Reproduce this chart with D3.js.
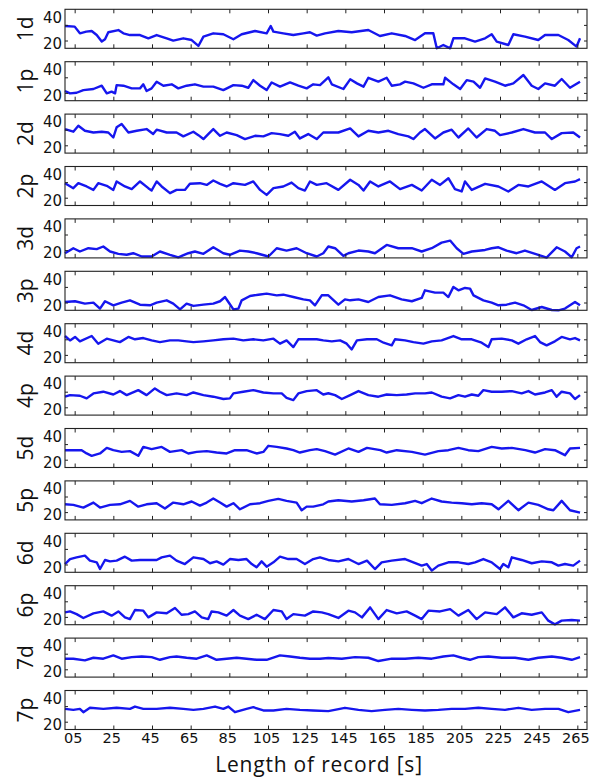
<!DOCTYPE html>
<html>
<head>
<meta charset="utf-8">
<script src="https://cdn.jsdelivr.net/npm/d3@7"></script>
<style>
  body { margin: 0; background: #fff; }
  svg { display: block; }
</style>
</head>
<body>
<div id="chart"></div>
<script>
// Panel names (top to bottom)
const panelNames = ["1d", "1p", "2d", "2p", "3d", "3p", "4d", "4p", "5d", "5p", "6d", "6p", "7d", "7p"];

// Axis ticks
const xTickValues = [5, 25, 45, 65, 85, 105, 125, 145, 165, 185, 205, 225, 245, 265];
const xTickLabels = ["05", "25", "45", "65", "85", "105", "125", "145", "165", "185", "205", "225", "245", "265"];
const yTickMarks = [20, 30];
const yTickLabels = [40, 20];

// Series: [time (s), value]
const s1d = [[0,29.3],[5,28.9],[7.7,24.6],[11,25.7],[13.8,26.1],[16.4,23.5],[19,19.3],[20.7,20.8],[22.4,25.3],[27.6,26.7],[30.2,24.6],[33.6,23.5],[38.8,23.5],[43.1,21.4],[47.4,23.5],[52.6,21.4],[56,19.9],[61.2,21.4],[65.5,20.3],[69,16.5],[71.6,22.5],[76.7,24.6],[81.9,24],[87.1,20.8],[91.4,24],[98.3,26.1],[104.3,24.6],[106.4,29.3],[107.8,25.7],[112.9,24.6],[118.1,23.5],[123.3,24.6],[126.7,25.3],[130.2,23.1],[134.5,24.6],[141.4,26.1],[148.3,25.3],[156.9,26.7],[162.9,22.9],[169,24.6],[175.9,22.9],[181.1,20.3],[186.2,24.6],[190.5,24.6],[192.3,15],[195.7,17.1],[199.2,15],[200.9,21.4],[206.9,21.4],[212.1,19.3],[217.3,21.4],[220.7,24],[223.3,19.3],[229.3,17.1],[231.9,24],[237.9,22.5],[244.8,20.3],[248.3,23.5],[255.2,23.5],[260.3,20.3],[264.6,16.1],[266.4,21.4]];
const s1p = [[0,21.2],[2.6,19.7],[6,20.1],[9.5,21.8],[14.7,22.5],[19,24.6],[21.6,19.7],[24.1,20.8],[25.9,19.7],[26.7,25],[30.2,24.6],[34.5,22.9],[38.8,22.9],[40.5,25.5],[42.2,21.2],[44.8,22.9],[47.4,27.2],[50.9,24.6],[55.2,25.5],[58.6,22.9],[62.9,24.6],[67.2,25.5],[71.6,24],[76.7,24],[81.9,21.8],[87.1,25],[91.4,24.6],[94.8,23.3],[97.4,28.2],[100.9,24.6],[104.3,21.8],[106.9,26.7],[111.2,24],[116.4,26.7],[120.7,24.6],[125,22.9],[128.4,25.5],[131.9,25],[136.2,30],[138,25.5],[144,22.5],[147.5,28.7],[151,26.1],[154.4,24],[156.9,29.7],[162.1,27.2],[166.4,29.7],[169,24.6],[173.3,25.5],[175.9,27.2],[180.2,26.1],[185.4,23.3],[189.7,25.5],[195.7,25.5],[196.6,29.7],[200.9,25.5],[204.4,22.5],[207.8,28.2],[211.3,27.2],[214.7,23.3],[217.3,29.3],[222.4,27.2],[227.6,24.6],[231.9,26.1],[237.1,31.5],[241.4,24.6],[244.8,22.5],[248.3,26.1],[253.4,24.6],[256.9,28.9],[261.2,23.3],[266.4,27.2]];
const s2d = [[0,30.4],[4.3,28.7],[6.9,32.5],[10.3,29.3],[14.7,28.2],[19,28.7],[22.4,28.2],[25,25],[26.7,31.5],[29.3,33.6],[32.8,28.2],[37.1,29.3],[42.2,30.4],[45.6,27.2],[47.4,30],[52.6,28.2],[57.7,28.2],[61.2,25.7],[66.4,28.7],[69,26.5],[71.6,24],[74.1,27.2],[76.7,30.4],[80.2,26.1],[83.6,28.2],[88.8,26.5],[93.1,24],[98.3,26.1],[102.6,25.7],[106.9,27.8],[111.2,27.2],[115.5,26.1],[118.9,28.7],[121.5,24.4],[125.8,27.2],[130.2,24],[133.6,28.2],[136.2,28.2],[141.4,28.2],[147.5,30.8],[151.8,25.7],[156.9,29.3],[162.1,28.2],[167.3,29.3],[172.4,27.2],[177.6,25.7],[180.2,24],[183.6,28.2],[186.2,30.4],[191.4,24.4],[195.7,28.2],[200,30],[203.5,25],[208.6,30.8],[212.9,25],[218.1,30.4],[222.4,29.3],[225,26.5],[231.1,28.2],[237.1,30.4],[243.1,28.2],[248.3,28.2],[251.8,24],[256.9,27.8],[262.9,28.2],[266.4,25]];
const s2p = [[0,29.3],[4.3,26.1],[6.9,29.3],[11.2,27.2],[14.7,25],[17.2,29.3],[21.6,27.6],[25,25],[26.7,30.4],[31,27.2],[34.5,25.5],[38.8,30.4],[43.1,26.1],[44.8,24.6],[47.4,30.4],[50,27.2],[54.3,22.9],[57.7,25],[62,25],[64.6,28.9],[69.8,29.3],[73.3,28.2],[76.7,31],[80.2,28.9],[83.6,27.2],[87.1,29.3],[93.1,28.2],[97.4,30.4],[100.9,25],[104.3,21.8],[107.8,26.1],[112.9,27.2],[117.2,29.7],[120.7,26.1],[124.1,24.6],[126.7,30.4],[130.2,28.2],[135.3,29.3],[141.4,25],[147.5,31.5],[151.8,28.2],[154.4,24.6],[157.8,30.4],[162.1,27.2],[168.1,30.4],[173.3,25.5],[179.4,28.2],[184.5,24.6],[189.7,31.5],[194,28.2],[198.3,32.5],[201.7,25.5],[205.2,24],[206.9,30.4],[210.4,25],[217.3,28.9],[224.2,27.2],[229.3,24],[234.5,28.2],[239.7,27.2],[246.6,30.4],[253.4,25],[258.6,29.3],[263.8,30.4],[266.4,31.9]];
const s3d = [[0,18],[4.3,21.2],[7.7,19.1],[12.1,21.2],[16.4,20.6],[19.8,22.3],[23.3,19.1],[27.6,17.6],[31.9,17],[35.3,18],[39.7,15.9],[44.8,15.9],[49.1,19.1],[54.3,17],[58.6,15.4],[63.8,18],[67.2,19.1],[71.6,17.6],[76.7,21.8],[81.9,18],[85.3,17],[90.5,19.7],[94.8,19.1],[99.1,18],[105.2,15.9],[109.5,21.2],[114.6,19.7],[119.8,21.2],[125,18],[130.2,15.9],[133.6,18],[136.2,22.3],[139.7,21.2],[144,16.3],[146.6,18],[151.8,19.7],[156.9,19.1],[160.3,18],[166.4,23.3],[172.4,21.2],[179.4,21.2],[184.5,19.1],[189.7,21.2],[194.8,24.8],[199.2,26.1],[202.6,21.2],[206.1,17.6],[210.4,19.1],[217.3,20.1],[220.7,21.2],[224.2,21.8],[228.4,19.7],[233.6,18],[237.9,19.7],[244.8,17],[249.1,15.2],[254.3,21.8],[258.6,19.1],[262.1,15.4],[264.6,21.2],[266.4,22.3]];
const s3p = [[0,20.3],[5.2,20.8],[10.3,19.3],[14.7,19.9],[18.1,16.1],[20.7,20.8],[25,18.2],[29.3,19.9],[33.6,21.4],[38.8,18.6],[44,18.2],[47.4,19.9],[52.6,21.4],[56,19.3],[59.5,15.6],[62.9,19.3],[66.4,17.8],[71.6,18.6],[76.7,19.3],[80.2,20.8],[82.8,23.5],[84.5,20.3],[87.1,15.6],[89.7,16.1],[91.4,21.4],[95.7,24.2],[100,25],[104.3,25.7],[109.5,24.6],[112.9,25],[118.1,23.5],[123.3,22],[126.7,21.4],[129.3,18.2],[132.8,24.6],[136.2,24.6],[141.4,18.6],[144.8,22],[147.5,21.4],[151.8,22],[156.9,20.3],[162.1,23.5],[168.1,24.6],[174.1,22],[179.4,20.8],[184.5,22.9],[186.2,27.8],[191.4,26.3],[195.7,26.3],[198.3,23.5],[200.9,30],[203.5,27.8],[206.9,29.3],[209.5,28.9],[211.3,24.6],[216.4,21.4],[220.7,19.9],[224.2,18.2],[228.4,18.6],[232.8,19.9],[237.1,18.2],[241.4,15.2],[246.6,17.1],[251.8,15.2],[255.2,15],[258.6,16.1],[263.8,20.3],[266.4,18.2]];
const s4d = [[0,32.1],[2.6,29.3],[5.2,31.5],[7.7,28.7],[13.8,32.1],[17.2,27.2],[21.6,30.4],[25,29.3],[28.4,28.2],[32.8,31.5],[36.2,30],[40.5,30.8],[44.8,29.3],[49.1,28.2],[54.3,29.3],[58.6,29.3],[62.9,28.7],[66.4,28.2],[71.6,28.7],[76.7,29.3],[81.9,30],[87.1,30.4],[92.2,29.3],[97.4,30],[102.6,29.3],[107.8,30.4],[111.2,27.2],[114.6,29.3],[118.1,25],[120.7,30],[125.8,30],[130.2,30],[133.6,29.3],[138,28.7],[142.3,29.3],[145.7,27.2],[148.3,23.5],[151,29.3],[156.2,30],[161.3,30],[164.8,27.8],[169,26.1],[170.7,30],[175.9,29.3],[180.2,28.2],[185.4,27.2],[189.7,28.7],[194.8,29.3],[200.9,32.1],[205.2,30],[210.4,30],[215.5,27.8],[219,25],[220.7,30],[225.9,30.4],[231.1,29.3],[234.5,27.2],[238.8,30],[243.1,32.1],[245.7,28.2],[249.1,26.1],[253.4,28.7],[256.9,31.5],[261.2,30],[263.8,30.8],[266.4,29.3]];
const s4p = [[0,26.8],[2.6,27.8],[7.7,27.4],[11.2,25.7],[14.7,28.9],[19.8,30],[25,28.2],[28.4,30.4],[31.9,27.8],[37.9,31],[42.2,27.8],[46.5,32.1],[49.1,30],[52.6,27.8],[57.7,28.9],[62.9,27.8],[66.4,29.5],[71.6,27.8],[76.7,26.8],[81.9,25.3],[85.3,25.7],[87.1,28.9],[92.2,30],[97.4,31],[102.6,29.5],[107.8,28.9],[112.1,28.9],[114.6,26.1],[118.1,24.6],[120.7,28.9],[125,30.4],[130.2,31],[133.6,28.2],[136.2,29],[139.7,27.8],[143.2,25.3],[147.5,27.8],[151.8,30.4],[156.9,27.8],[162.1,26.8],[166.4,28.2],[171.6,27.8],[176.7,28.2],[181.1,28.9],[186.2,28.9],[189.7,29.5],[194.8,26.8],[199.2,25.7],[203.5,27.8],[206.9,26.8],[210.4,28.2],[213.8,27.4],[216.4,31],[220.7,30],[225.9,30],[231.1,30.4],[236.2,28.9],[239.7,30.4],[243.1,28.2],[248.3,29.5],[251.8,31],[254.3,26.8],[256.9,30],[261.2,28.9],[263.8,25.3],[266.4,27.8]];
const s5d = [[0,26.1],[4.3,26.1],[8.6,26.1],[11.2,24],[13.8,22.5],[18.1,24],[21.6,27.6],[25,26.1],[29.3,25],[33.6,25.5],[37.9,22.5],[40.5,28.2],[44.8,26.8],[50,28.2],[54.3,25],[60.3,26.1],[63.8,24],[68.1,25],[73.3,25.5],[78.4,24.6],[83.6,24],[87.9,26.1],[93.9,26.1],[99.1,24],[102.6,25],[105.2,28.9],[109.5,28.2],[114.6,27.2],[118.1,26.1],[121.5,24.6],[126.7,26.1],[130.2,26.8],[134.5,25.5],[139.7,23.3],[146.6,27.2],[151.8,25],[156.2,27.6],[163.1,26.1],[166.4,24.6],[171.6,26.1],[179.4,25],[186.2,23.3],[193.1,25.5],[198.3,26.1],[203.5,27.6],[208.6,26.1],[213.8,25.5],[220.7,28.2],[225.9,27.2],[231.1,27.6],[238.1,26.1],[243.1,24.6],[248.3,26.8],[253.4,26.1],[258.6,22.9],[261.2,27.2],[266.4,27.6]];
const s5p = [[0,25],[4.3,24.6],[9.5,22.9],[14.7,26.1],[18.1,22.9],[23.3,24.6],[28.4,25],[33.6,27.2],[37.9,23.5],[42.2,25],[47.4,25.7],[51.7,22.3],[56,26.1],[61.2,25],[65.5,26.8],[69.8,24.2],[73.3,26.1],[76.7,28.7],[80.2,26.1],[83.6,23.5],[87.1,25.7],[90.5,21.8],[95.7,25],[100.9,25.7],[105.2,27.2],[110.3,28.5],[114.6,27.2],[119.8,26.1],[122.4,21.2],[125,23.5],[128.4,23.5],[133.6,25],[136.2,26.8],[141.4,27.6],[148.3,26.8],[154.4,27.6],[160.3,28.7],[162.9,25],[169,24.6],[175.9,25.7],[181.1,27.2],[184.5,25.7],[189.7,28.7],[194.8,26.8],[200,26.1],[205.2,25.7],[210.4,25],[215.5,25.7],[220.7,25],[224.2,21.8],[229.3,27.2],[234.5,21.2],[239.7,26.1],[244.8,24.6],[250,21.8],[252.6,21.2],[256.9,27.2],[261.2,21.2],[266.4,19.7]];
const s6d = [[0,20.3],[2.6,23.5],[6,24.6],[10.3,25.7],[12.9,22.5],[16.4,21.4],[18.1,17.1],[20.7,22.9],[23.3,22],[26.7,22.5],[31,25],[34.5,22.5],[38.8,22.9],[44,22.9],[47.4,22.9],[50,24.6],[54.3,25.7],[57.7,22.5],[62,20.3],[66.4,24.6],[71.6,23.5],[75,20.8],[78.4,22],[81.9,19.9],[85.3,23.5],[89.7,22.9],[93.9,23.5],[96.6,20.3],[99.1,18.2],[101.7,22],[104.3,18.6],[107.8,21.4],[111.2,25],[115.5,23.5],[119.8,23.5],[124.1,20.3],[128.4,23.5],[131.9,24.6],[136.2,22.9],[141.4,22],[146.6,23.5],[151.8,20.3],[156.2,22.5],[160.3,17.1],[163.8,21.4],[169,22.5],[175.9,23.5],[180.2,21.4],[184.5,19.3],[187.1,20.3],[189.7,16.1],[193.1,19.3],[198.3,21.4],[203.5,21.4],[208.6,20.3],[212.1,21.4],[216.4,23.5],[220.7,21.4],[225,17.1],[226.7,20.3],[229.3,18.2],[231.1,24.6],[236.2,22.9],[241.4,20.8],[246.6,22],[251.8,21.4],[255.2,19.3],[258.6,20.3],[262.9,19.3],[266.4,22.5]];
const s6p = [[0,22.9],[2.6,23.5],[6,21.8],[9.5,19.3],[14.7,22.3],[19.8,23.5],[24.1,20.8],[27.6,23.5],[31,19.7],[33.6,18.6],[36.2,24.4],[40.5,24],[43.1,19.7],[47.4,22.9],[52.6,22.3],[56.9,25.7],[60.3,21.4],[63.8,21.8],[67.2,23.5],[70.7,19.7],[74.1,18.6],[75.8,23.5],[79.3,22.9],[83.6,20.8],[87.1,24.4],[90.5,20.8],[94.8,18.6],[99.1,21.4],[103.4,18.6],[107.8,24.4],[112.1,23.5],[114.6,18.6],[118.1,21.8],[124.1,20.8],[128.4,23.5],[132.8,22.9],[136.2,21.8],[141.4,19.3],[146.6,24],[150,22.9],[153.6,19.7],[157.8,26.1],[162.1,18.6],[166.4,24.4],[171.6,22.3],[176.7,23.5],[181.1,20.8],[184.5,18.6],[188,24],[194,23.5],[199.2,25],[203.5,20.8],[208.6,24.4],[212.9,18.6],[217.3,22.9],[223.3,21.8],[227.6,26.1],[231.9,19.7],[236.2,22.3],[241.4,21.4],[246.6,22.9],[250,17.6],[253.4,15.2],[256.9,17.6],[262.1,18],[266.4,17.6]];
const s7d = [[0,26.8],[4.3,26.8],[10.3,25.7],[14.7,27.4],[19.8,26.8],[25,28.9],[29.3,26.8],[34.5,27.8],[39.7,28.2],[44.8,27.8],[49.1,26.1],[54.3,27.8],[57.7,28.2],[62.9,27.4],[68.1,26.8],[73.3,28.9],[78.4,26.1],[83.6,26.8],[88.8,27.4],[93.9,26.8],[99.1,26.1],[104.3,26.1],[111.2,28.9],[116.4,28.2],[121.5,27.4],[126.7,26.8],[131.9,26.8],[136.2,27.2],[143.2,26.8],[150,27.8],[156.9,27.4],[162.1,25.3],[169,26.8],[175.9,26.8],[182.8,27.4],[189.7,26.8],[195.7,28.2],[200.9,28.9],[205.2,27.4],[209.5,26.1],[213.8,27.8],[219,28.2],[225.9,27.4],[232.8,27.4],[239.7,26.1],[244.8,27.4],[251.8,28.2],[256.9,27.4],[262.1,26.1],[266.4,27.8]];
const s7p = [[0,28.2],[4.3,27.6],[7.7,28.2],[9.5,26.1],[12.9,28.9],[19.8,28.2],[26.7,28.9],[33.6,28.2],[36.2,29.7],[40.5,28.2],[47.4,28.2],[54.3,28.9],[61.2,28.2],[66.4,27.6],[71.6,28.2],[77.6,29.7],[81.9,28.2],[84.5,29.7],[87.9,26.1],[93.9,28.2],[97.4,29.3],[102.6,27.2],[107.8,27.2],[114.6,28.2],[121.5,27.6],[128.4,27.2],[136.2,26.8],[144.8,28.9],[151.8,27.6],[158.6,26.8],[165.5,27.6],[172.4,28.2],[179.4,27.6],[186.2,27.2],[193.1,27.6],[200,28.2],[206.9,28.2],[213.8,28.9],[220.7,28.2],[227.6,27.6],[234.5,28.9],[241.4,27.6],[248.3,28.2],[255.2,28.2],[260.3,26.1],[266.4,27.6]];

const seriesList = [s1d, s1p, s2d, s2p, s3d, s3p, s4d, s4p, s5d, s5p, s6d, s6p, s7d, s7p];

// Layout
const W = 596, H = 778;
const plotLeft = 65, plotRight = 587;
const firstTop = 9.3, panelStep = 52.4, panelH = 39;
const lineColor = "#1616ee";

const svg = d3.select("#chart")
    .append("svg")
    .attr("width", W)
    .attr("height", H);

const x = d3.scaleLinear().domain([0, 270]).range([plotLeft, plotRight]);

const line = d3.line()
    .x(d => x(d[0]))
    .y(d => d[2]);

panelNames.forEach((name, i) => {
    const top = firstTop + i * panelStep;
    const bottom = top + panelH;
    const y = d3.scaleLinear().domain([15, 40]).range([bottom, top]);
    const g = svg.append("g");

    // Data line
    const pts = seriesList[i].map(d => [d[0], d[1], y(d[1])]);
    g.append("path")
        .attr("d", line(pts))
        .attr("fill", "none")
        .attr("stroke", lineColor)
        .attr("stroke-width", 2.4)
        .attr("stroke-linejoin", "round");

    // Frame
    g.append("rect")
        .attr("x", plotLeft)
        .attr("y", top)
        .attr("width", plotRight - plotLeft)
        .attr("height", panelH)
        .attr("fill", "none")
        .attr("stroke", "#222")
        .attr("stroke-width", 1.1);

    // x ticks, inward, top and bottom
    const xTop = g.append("g")
        .attr("transform", `translate(0,${top})`)
        .call(d3.axisTop(x).tickValues(xTickValues).tickSize(-4).tickFormat(""));
    const xBot = g.append("g")
        .attr("transform", `translate(0,${bottom})`)
        .call(d3.axisBottom(x).tickValues(xTickValues).tickSize(-4)
            .tickPadding(3)
            .tickFormat((d, j) => i === panelNames.length - 1 ? xTickLabels[j] : ""));

    // y ticks, inward, left and right
    const yL = g.append("g")
        .attr("transform", `translate(${plotLeft},0)`)
        .call(d3.axisLeft(y).tickValues(yTickMarks).tickSize(-3).tickFormat(""));
    const yR = g.append("g")
        .attr("transform", `translate(${plotRight},0)`)
        .call(d3.axisRight(y).tickValues(yTickMarks).tickSize(-3).tickFormat(""));

    [xTop, xBot, yL, yR].forEach(a => {
        a.select(".domain").remove();
        a.selectAll(".tick line").attr("stroke", "#222");
    });
    xBot.selectAll(".tick text")
        .attr("font-family", "DejaVu Sans")
        .attr("font-size", 14.5)
        .attr("fill", "#111")
        .attr("dx", -2);

    // y tick labels
    const yLab = g.append("g")
        .attr("transform", `translate(${plotLeft},0)`)
        .call(d3.axisLeft(y).tickValues(yTickLabels).tickSize(0).tickPadding(3));
    yLab.select(".domain").remove();
    yLab.selectAll(".tick text")
        .attr("font-family", "DejaVu Sans")
        .attr("font-size", 15)
        .attr("fill", "#111")
        .attr("dy", d => d === 40 ? "0.85em" : "0.5em");

    // Panel name
    g.append("text")
        .attr("transform", `translate(33,${top + panelH / 2}) rotate(-90)`)
        .attr("text-anchor", "middle")
        .attr("font-family", "Open Sans")
        .attr("font-size", 21)
        .attr("fill", "#111")
        .text(name);
});

// x label
svg.append("text")
    .attr("x", 319)
    .attr("y", 771.5)
    .attr("text-anchor", "middle")
    .attr("font-family", "Open Sans")
    .attr("font-size", 21)
    .attr("letter-spacing", 0.8)
    .attr("fill", "#111")
    .text("Length of record [s]");
</script>
</body>
</html>
